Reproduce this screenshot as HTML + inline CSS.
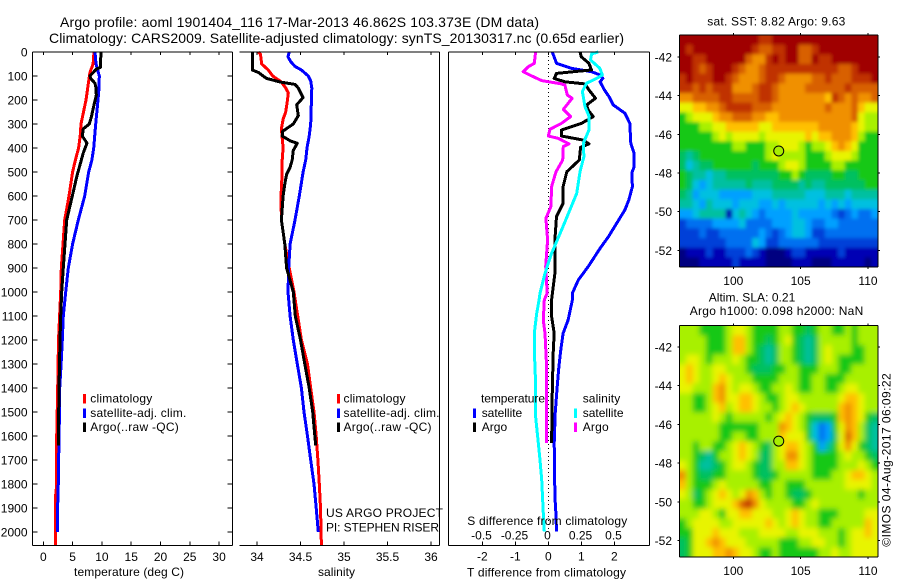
<!DOCTYPE html>
<html>
<head>
<meta charset="utf-8">
<title>Argo profile 1901404_116</title>
<style>
html,body{margin:0;padding:0;background:#fff;}
svg{display:block;}
text{font-family:"Liberation Sans",sans-serif;font-size:12px;fill:#000;}
.title{font-size:14px;}
</style>
</head>
<body>
<svg id="chart" xmlns="http://www.w3.org/2000/svg" width="900" height="580" viewBox="0 0 900 580">
<defs>
<clipPath id="clipSst"><rect x="679.5" y="35" width="198.5" height="232"/></clipPath>
<clipPath id="clipSla"><rect x="679.5" y="325.7" width="198.5" height="231.3"/></clipPath>
<filter id="blurSst" x="-5%" y="-5%" width="110%" height="110%"><feGaussianBlur stdDeviation="1.8"/></filter>
<filter id="blurSla" x="-5%" y="-5%" width="110%" height="110%"><feGaussianBlur stdDeviation="2.6"/></filter>
</defs>

<g id="marks"></g>

<text class="title" x="60" y="27" textLength="479" lengthAdjust="spacing">Argo profile: aoml 1901404_116 17-Mar-2013 46.862S 103.373E (DM data)</text>
<text class="title" x="49" y="43" textLength="575" lengthAdjust="spacing">Climatology: CARS2009. Satellite-adjusted climatology: synTS_20130317.nc (0.65d earlier)</text>

<text x="74" y="576" textLength="110" lengthAdjust="spacing">temperature (deg C)</text>
<text x="318" y="576" textLength="37" lengthAdjust="spacing">salinity</text>
<text x="467" y="576.5" textLength="159" lengthAdjust="spacing">T difference from climatology</text>
<text x="467.3" y="525" textLength="160" lengthAdjust="spacing">S difference from climatology</text>

<g>
<rect x="83" y="394" width="3" height="9.5" fill="#ff0000"/>
<rect x="83" y="408.5" width="3" height="9.5" fill="#0000ff"/>
<rect x="83" y="422.5" width="3" height="9.5" fill="#000"/>
<text x="90.3" y="402.7" textLength="62" lengthAdjust="spacing">climatology</text>
<text x="90.3" y="417" textLength="96" lengthAdjust="spacing">satellite-adj. clim.</text>
<text x="90.3" y="431" textLength="88.5" lengthAdjust="spacing">Argo(..raw -QC)</text>
</g>
<g>
<rect x="337" y="394" width="3" height="9.5" fill="#ff0000"/>
<rect x="337" y="408.5" width="3" height="9.5" fill="#0000ff"/>
<rect x="337" y="422.5" width="3" height="9.5" fill="#000"/>
<text x="343.5" y="402.7" textLength="62" lengthAdjust="spacing">climatology</text>
<text x="343.5" y="417" textLength="96" lengthAdjust="spacing">satellite-adj. clim.</text>
<text x="343.5" y="431" textLength="88" lengthAdjust="spacing">Argo(..raw -QC)</text>
</g>
<text x="326" y="517" textLength="117" lengthAdjust="spacing">US ARGO PROJECT</text>
<text x="326" y="531.7" textLength="113" lengthAdjust="spacing">PI: STEPHEN RISER</text>

<g>
<text x="481" y="402.7" textLength="64" lengthAdjust="spacing">temperature</text>
<text x="582.7" y="402.7" textLength="37.5" lengthAdjust="spacing">salinity</text>
<rect x="473" y="408.5" width="3" height="9.5" fill="#0000ff"/>
<rect x="473" y="422.5" width="3" height="9.5" fill="#000"/>
<rect x="574" y="408.5" width="3" height="9.5" fill="#00ffff"/>
<rect x="574" y="422.5" width="3" height="9.5" fill="#ff00ff"/>
<text x="481.7" y="417" textLength="40.5" lengthAdjust="spacing">satellite</text>
<text x="481.7" y="431" textLength="25.5" lengthAdjust="spacing">Argo</text>
<text x="582.7" y="417" textLength="40.8" lengthAdjust="spacing">satellite</text>
<text x="582.7" y="431" textLength="26" lengthAdjust="spacing">Argo</text>
</g>

<text x="707.3" y="25.7" textLength="138" lengthAdjust="spacing">sat. SST: 8.82 Argo: 9.63</text>
<text x="708.7" y="301.7" textLength="86.6" lengthAdjust="spacing">Altim. SLA: 0.21</text>
<text x="689.7" y="315" textLength="173.6" lengthAdjust="spacing">Argo h1000: 0.098 h2000: NaN</text>
<text transform="translate(890.7 546.7) rotate(-90)" x="0" y="0" textLength="173.4" lengthAdjust="spacing">©IMOS 04-Aug-2017 06:09:22</text>
</svg>

<script>
/* ---- axis tick labels ---- */
const depthTicks = [0,100,200,300,400,500,600,700,800,900,1000,1100,1200,1300,1400,1500,1600,1700,1800,1900,2000];
const tempTicks = [0,5,10,15,20,25,30];
const salTicks = [34,34.5,35,35.5,36];
const salTickLabels = ['34','34.5','35','35.5','36'];
const tDiffTicks = [-2,-1,0,1,2];
const tDiffLabels = ['-2','-1','0','1','2'];
const sDiffTicks = [-0.5,-0.25,0,0.25,0.5];
const sDiffLabels = ['-0.5','-0.25','0','0.25','0.5'];
const lonTicks = [100,105,110];
const latTicks = [-42,-44,-46,-48,-50,-52];

/* ---- temperature panel ---- */
const tempClimDepth = [0,50,85,100,200,300,350,400,450,500,600,700,800,900,1000,1200,1400,1600,1800,1850,2000,2055];
const tempClimValue = [8.65,8.5,7.97,7.86,7.29,6.43,6.3,6.03,5.47,5.0,4.39,3.65,3.36,3.08,2.97,2.6,2.45,2.28,2.28,2.1,2.1,2.12];
const tempSatDepth = [0,50,80,100,150,200,300,400,450,500,600,700,800,900,1000,1100,1200,1300,1400,1500,1650,1700,1850,1900,2000];
const tempSatValue = [8.83,9.0,9.33,9.56,9.5,9.33,8.94,8.6,8.3,7.74,7.06,5.98,5.0,4.27,3.82,3.42,3.25,3.03,2.8,2.74,2.68,2.57,2.55,2.4,2.4];
const tempArgoDepth = [0,65,70,85,100,110,130,150,180,220,270,300,320,350,380,420,470,520,600,700,800,900,1000,1100,1200,1400,1500,1640];
const tempArgoValue = [9.85,9.73,9.1,8.54,7.97,8.08,8.82,9.0,9.05,8.65,8.2,7.85,6.83,6.66,7.46,6.83,6.26,5.7,4.95,3.99,3.7,3.42,3.14,2.97,2.85,2.68,2.62,2.56];

/* ---- salinity panel ---- */
const salClimDepth = [0,10,50,75,100,125,150,170,200,250,280,320,400,450,500,600,700,800,900,1000,1100,1200,1300,1400,1500,1600,1700,1800,1900,2055];
const salClimValue = [34.015,34.04,34.054,34.13,34.18,34.28,34.33,34.36,34.35,34.33,34.30,34.28,34.30,34.29,34.29,34.276,34.28,34.32,34.37,34.425,34.468,34.51,34.58,34.617,34.655,34.68,34.70,34.716,34.73,34.74];
const salSatDepth = [0,20,40,60,75,100,120,150,300,350,400,450,500,600,700,800,900,1000,1100,1200,1300,1400,1500,1600,1700,1800,1900,2000];
const salSatValue = [34.37,34.356,34.387,34.437,34.51,34.59,34.617,34.63,34.617,34.6,34.575,34.56,34.53,34.486,34.437,34.38,34.364,34.356,34.38,34.417,34.463,34.51,34.54,34.58,34.617,34.655,34.68,34.705];
const salArgoDepth = [0,75,85,100,110,125,135,150,190,220,265,300,330,350,370,380,410,450,480,510,550,600,700,800,900,1000,1100,1200,1300,1400,1500,1640];
const salArgoValue = [33.946,33.946,34.015,34.07,34.11,34.264,34.437,34.475,34.53,34.456,34.475,34.417,34.295,34.29,34.38,34.463,34.417,34.405,34.38,34.34,34.32,34.30,34.28,34.32,34.34,34.417,34.44,34.5,34.55,34.6,34.64,34.675];

/* ---- difference panel ---- */
const dTSatDepth = [0,47,68,82,96,110,124,158,186,221,255,297,380,422,478,505,561,617,658,714,770,818,894,950,1005,1033,1117,1172,1241,1311,1394,1505,1630,1852,1922,1998];
const dTSatValue = [0.12,0.25,0.7,1.31,1.57,1.65,1.57,1.7,1.84,1.97,2.32,2.47,2.5,2.6,2.6,2.53,2.55,2.44,2.32,2.07,1.82,1.57,1.21,0.91,0.73,0.73,0.6,0.45,0.38,0.32,0.27,0.21,0.18,0.2,0.23,0.25];
const dTArgoDepth = [0,20,47,75,82,89,110,124,133,158,193,221,242,269,297,325,350,367,383,397,450,499,561,631,686,783,922,1033,1102,1172,1241,1408,1630];
const dTArgoValue = [0.96,1.0,1.23,1.31,0.76,0.25,0.18,0.5,1.11,1.23,1.43,1.16,1.21,1.36,1.01,0.4,0.4,1.06,1.23,0.98,0.94,0.56,0.45,0.45,0.25,0.2,0.2,0.1,0.1,0.18,0.15,0.12,0.1];
const dSArgoDepth = [0,47,61,82,103,119,133,138,179,193,239,269,297,322,350,360,383,394,450,499,561,644,693,783,894,1005,1033,1117,1172,1311,1519,1630];
const dSArgoValue = [-0.096,-0.106,-0.15,-0.19,-0.114,-0.05,0.1,0.126,0.144,0.18,0.114,0.17,0.1,0.013,0,0.076,0.157,0.114,0.109,0.058,0.025,0.02,-0.018,-0.005,-0.02,-0.008,-0.03,-0.038,-0.025,-0.013,-0.013,-0.015];
const dSSatDepth = [0,8,33,68,96,110,130,165,228,269,325,380,436,499,589,658,742,839,922,1005,1033,1089,1172,1241,1380,1519,1588,1700,1783,1922,1998];
const dSSatValue = [0.379,0.328,0.32,0.39,0.41,0.366,0.29,0.258,0.278,0.31,0.308,0.265,0.27,0.24,0.215,0.164,0.1,0.025,-0.025,-0.063,-0.07,-0.088,-0.106,-0.106,-0.096,-0.096,-0.083,-0.063,-0.05,-0.038,-0.03];

/* ---- float position ---- */
const floatLon = 103.373;
const floatLat = -46.862;

/* ---- map colour levels (dark blue to dark red) ---- */
const levelColors = ['#000080','#0000b4','#0040d8','#0070f0','#00a0ff','#00c0e0','#00c0a0','#00c060','#18c818','#a8f000','#e8f400','#ffc000','#f09000','#d86000','#c03000','#a00000'];

/* ---- SST map, level per 0.5 degree cell, north to south ---- */
const sstGrid = [
[15,15,15,15,15,15,15,15,15,15,15,15,14,14,15,15,15,15,15,15,15,15,15,15,15,15,15,15,15,15],
[15,14,15,15,15,15,15,15,15,15,15,14,13,13,14,14,15,15,13,13,14,15,15,15,15,15,15,15,15,15],
[15,15,14,14,15,15,15,15,15,15,13,12,12,14,15,14,15,15,13,13,15,14,14,15,15,15,15,15,15,15],
[15,15,14,13,14,15,15,15,14,13,12,12,13,14,14,14,14,14,14,14,14,14,14,14,13,13,14,15,15,15],
[14,15,14,14,14,15,15,14,13,12,12,12,13,14,14,13,12,12,12,12,13,13,14,13,13,13,14,14,14,15],
[14,14,13,14,13,14,14,14,12,12,12,13,14,14,13,12,12,12,12,13,13,13,13,13,13,14,13,13,13,13],
[12,12,13,13,13,13,14,14,13,13,13,13,14,14,13,12,12,12,12,12,12,12,11,14,13,12,13,12,12,13],
[10,10,11,11,12,12,13,14,14,14,14,13,13,13,12,12,12,12,12,12,12,12,13,12,12,12,13,11,10,10],
[8,9,10,10,10,11,12,12,13,13,13,12,12,11,11,12,12,12,12,12,12,12,12,12,12,12,13,10,9,9],
[8,8,8,9,9,10,10,11,11,11,11,11,10,10,11,11,11,11,11,11,11,12,12,12,12,12,11,10,9,9],
[8,8,8,8,8,9,10,9,10,10,10,10,9,10,10,10,10,10,10,11,10,11,11,12,12,12,11,9,8,8],
[8,8,8,8,8,8,8,8,9,9,8,8,8,9,9,10,10,10,9,8,9,9,10,11,12,11,10,8,8,8],
[7,6,7,8,8,8,8,8,8,8,8,8,8,9,10,9,9,9,9,8,8,8,9,10,10,10,9,8,8,8],
[7,5,6,7,7,8,8,8,8,8,8,7,8,8,8,9,10,10,9,8,8,8,8,9,9,8,8,8,8,8],
[8,7,6,6,5,6,6,7,7,7,7,7,7,7,7,8,8,9,8,7,7,7,7,8,8,7,7,8,8,8],
[8,7,5,4,5,6,6,6,6,6,7,6,6,6,7,7,7,7,6,7,6,6,7,7,7,7,7,7,8,8],
[7,6,4,5,5,5,4,4,4,4,4,5,5,5,6,6,6,6,6,5,5,5,6,6,6,5,6,6,6,6],
[6,6,5,4,6,5,5,5,4,5,5,5,4,4,5,4,5,5,5,5,5,4,5,4,5,4,5,5,5,5],
[4,4,5,6,6,6,6,1,5,6,5,4,3,4,4,4,4,5,4,4,4,4,4,3,2,3,4,3,3,4],
[2,3,3,3,3,4,4,4,4,5,3,3,3,3,4,4,4,5,5,4,3,3,4,4,3,3,3,3,3,3],
[2,2,2,3,2,2,3,3,3,3,3,3,4,3,2,3,4,5,5,4,2,2,3,3,3,3,3,3,3,3],
[2,2,2,2,2,2,2,3,3,3,3,5,4,2,2,3,3,3,3,3,3,2,2,2,2,2,2,2,2,2],
[0,1,1,1,2,1,1,2,2,2,3,2,1,0,0,0,1,2,2,1,1,1,1,1,2,1,1,1,1,1],
[0,0,0,1,1,1,1,1,2,1,1,1,1,0,0,0,0,1,1,1,0,0,0,1,1,1,1,1,0,1]
];

/* ---- altimetric SLA map, level per 0.5 degree cell, north to south ---- */
const slaGrid = [
[9,9,9,8,8,8,8,9,10,10,9,8,8,8,8,9,9,8,8,7,8,9,9,8,8,9,8,9,9,9],
[9,9,9,9,8,8,8,9,11,11,9,8,8,7,8,9,10,8,7,6,7,9,9,9,9,9,8,9,9,9],
[9,9,9,9,8,8,8,9,11,11,9,8,7,6,7,9,9,8,7,6,7,9,10,9,9,9,8,8,9,9],
[9,10,10,9,8,9,9,9,10,9,8,8,7,6,7,9,9,8,7,6,7,9,10,9,8,8,8,8,9,9],
[10,11,10,9,9,10,10,9,9,9,8,7,7,7,8,8,9,9,8,8,8,9,9,9,8,8,9,9,9,9],
[10,11,10,9,9,10,11,10,9,9,9,8,8,8,8,9,9,9,8,8,9,9,8,8,8,9,9,9,9,9],
[10,10,9,9,9,11,12,10,9,10,10,9,8,8,9,9,10,9,8,8,9,9,8,8,9,10,10,9,9,9],
[9,9,8,8,9,11,12,10,10,11,11,10,9,8,8,9,10,10,9,9,9,9,9,9,10,11,11,10,9,9],
[9,9,8,8,9,10,11,9,10,11,11,10,9,9,8,9,10,11,10,9,9,9,9,9,11,12,11,10,9,9],
[9,9,9,9,9,10,9,8,9,9,9,9,9,8,9,10,11,10,9,8,7,7,7,8,11,12,11,10,8,7],
[9,9,9,9,9,9,8,8,8,8,8,8,9,9,9,12,11,10,9,8,5,3,4,8,10,12,11,9,7,6],
[9,9,9,9,9,9,8,8,9,9,8,8,9,9,9,11,10,10,10,8,5,3,4,7,10,13,11,9,7,6],
[9,9,8,9,9,8,8,9,10,11,10,9,8,7,9,10,11,11,10,9,8,4,6,8,10,12,10,8,7,6],
[9,9,8,7,6,8,9,9,10,11,10,9,7,7,9,10,12,12,10,9,8,8,8,8,9,10,9,9,8,7],
[10,9,8,6,6,7,8,9,10,10,9,8,7,7,9,9,11,11,10,9,8,8,8,8,9,9,9,10,9,8],
[12,9,8,7,7,8,8,9,9,9,9,8,7,7,8,9,9,9,9,9,8,8,8,9,9,10,11,11,10,9],
[11,9,8,8,8,9,10,9,9,9,9,9,8,8,9,9,8,8,8,9,9,9,9,9,9,10,10,10,10,9],
[10,9,7,8,9,10,11,10,9,10,12,11,9,8,9,9,8,7,7,8,9,9,9,9,9,9,9,8,9,9],
[9,9,8,8,9,10,10,10,11,13,14,12,10,9,9,9,9,8,8,9,10,9,9,9,9,9,9,9,9,9],
[9,9,9,10,10,9,8,10,10,11,11,10,10,10,9,9,10,11,10,9,9,8,8,8,9,9,9,9,10,10],
[8,9,10,10,10,10,9,9,10,10,10,10,10,11,10,9,10,11,10,9,9,8,8,9,9,9,9,9,11,10],
[8,8,10,10,10,11,10,10,10,9,9,9,10,10,10,10,9,9,10,10,10,9,9,9,8,9,10,10,11,10],
[7,8,10,10,11,12,11,10,10,10,9,9,9,9,9,8,8,8,9,9,10,10,9,9,8,9,10,10,10,10],
[7,8,10,10,10,11,11,12,11,10,10,9,8,8,9,8,8,8,8,8,8,9,9,10,9,9,10,10,10,10]
];

/* ---- scales ---- */
const SVGNS = 'http://www.w3.org/2000/svg';
const marks = document.getElementById('marks');
const plotTop = 52, plotBottom = 545.3;
function yDepth(d){ return plotTop + 0.24 * d; }
function xTemp(v){ return 43.3 + 5.86 * v; }
function xSal(v){ return 257 + 87 * (v - 34); }
function xDT(v){ return 548.3 + 33 * v; }
function xDS(v){ return 548.3 + 132 * v; }
const lonLeft = 96, lonRight = 110.73;
function xLon(lon){ return 733.3 + 13.47 * (lon - 100); }
function ySstLat(lat){ return 57 + 19.33 * (-42 - lat); }
function ySlaLat(lat){ return 347 + 19.35 * (-42 - lat); }

function node(tag, parent){
  const el = document.createElementNS(SVGNS, tag);
  parent.appendChild(el);
  return el;
}
function segment(parent, x1, y1, x2, y2){
  const l = node('line', parent);
  l.setAttribute('x1', x1);
  l.setAttribute('y1', y1);
  l.setAttribute('x2', x2);
  l.setAttribute('y2', y2);
  l.setAttribute('stroke', '#000');
  l.setAttribute('stroke-width', '1');
  l.setAttribute('shape-rendering', 'crispEdges');
  
  
  return l;
}
function label(parent, x, y, str, anchor){
  const t = node('text', parent);
  t.setAttribute('x', x);
  t.setAttribute('y', y);
  t.setAttribute('text-anchor', anchor);
  t.textContent = str;
  
  
  return t;
}
function profile(parent, depths, values, xFn, color, name){
  const p = node('polyline', parent);
  p.setAttribute('points', depths.map(function(d, i){ return xFn(values[i]).toFixed(1) + ',' + yDepth(d).toFixed(1); }).join(' '));
  p.setAttribute('fill', 'none');
  p.setAttribute('stroke', color);
  p.setAttribute('stroke-width', '3');
  p.setAttribute('stroke-linejoin', 'round');
  p.setAttribute('shape-rendering', 'crispEdges');
  
  
  return p;
}

/* ---- panel 1: temperature ---- */
const p1 = node('g', marks);


profile(p1, tempClimDepth, tempClimValue, xTemp, '#ff0000', 'temperature-climatology-line');
profile(p1, tempSatDepth, tempSatValue, xTemp, '#0000ff', 'temperature-satellite-line');
profile(p1, tempArgoDepth, tempArgoValue, xTemp, '#000000', 'temperature-argo-line');
segment(p1, 32.5, plotTop, 232.5, plotTop);
segment(p1, 32.5, plotBottom, 232.5, plotBottom);
segment(p1, 32.5, plotTop, 32.5, plotBottom);
segment(p1, 232.5, plotTop, 232.5, plotBottom);
depthTicks.forEach(function(d){
  segment(p1, 32.5, yDepth(d), 37.5, yDepth(d));
  segment(p1, 227.5, yDepth(d), 232.5, yDepth(d));
  label(p1, 27.5, yDepth(d) + 4.5, String(d), 'end');
});
tempTicks.forEach(function(v){
  segment(p1, xTemp(v), plotTop, xTemp(v), plotTop + 3);
  segment(p1, xTemp(v), plotBottom - 4, xTemp(v), plotBottom);
  label(p1, xTemp(v), 561, String(v), 'middle');
});

/* ---- panel 2: salinity ---- */
const p2 = node('g', marks);


profile(p2, salClimDepth, salClimValue, xSal, '#ff0000', 'salinity-climatology-line');
profile(p2, salSatDepth, salSatValue, xSal, '#0000ff', 'salinity-satellite-line');
profile(p2, salArgoDepth, salArgoValue, xSal, '#000000', 'salinity-argo-line');
segment(p2, 239.5, plotTop, 439.5, plotTop);
segment(p2, 239.5, plotBottom, 439.5, plotBottom);
segment(p2, 439.5, plotTop, 439.5, plotBottom);
salTicks.forEach(function(v, i){
  segment(p2, xSal(v), plotTop, xSal(v), plotTop + 3);
  segment(p2, xSal(v), plotBottom - 4, xSal(v), plotBottom);
  label(p2, xSal(v), 561, salTickLabels[i], 'middle');
});

/* ---- panel 3: differences ---- */
const p3 = node('g', marks);


const zeroLine = segment(p3, xDT(0), plotTop, xDT(0), yDepth(2000));
zeroLine.setAttribute('stroke-dasharray', '1 3');

profile(p3, dTSatDepth, dTSatValue, xDT, '#0000ff', 't-difference-satellite-line');
profile(p3, dTArgoDepth, dTArgoValue, xDT, '#000000', 't-difference-argo-line');
profile(p3, dSArgoDepth, dSArgoValue, xDS, '#ff00ff', 's-difference-argo-line');
profile(p3, dSSatDepth, dSSatValue, xDS, '#00ffff', 's-difference-satellite-line');
segment(p3, 448.5, plotTop, 649.5, plotTop);
segment(p3, 448.5, plotBottom, 649.5, plotBottom);
segment(p3, 448.5, plotTop, 448.5, plotBottom);
segment(p3, 649.5, plotTop, 649.5, plotBottom);
tDiffTicks.forEach(function(v, i){
  segment(p3, xDT(v), plotTop, xDT(v), plotTop + 3);
  segment(p3, xDT(v), plotBottom - 4, xDT(v), plotBottom);
  label(p3, xDT(v), 560.5, tDiffLabels[i], 'middle');
});
sDiffTicks.forEach(function(v, i){
  label(p3, xDS(v) - 0.8, 539.5, sDiffLabels[i], 'middle');
});

/* ---- maps ---- */
function drawMap(grid, yLat, top, bottom, clipId, blurId, name, markerFill){
  const g = node('g', marks);
  
  
  const clip = node('g', g);
  clip.setAttribute('clip-path', 'url(#' + clipId + ')');
  
  
  const blur = node('g', clip);
  blur.setAttribute('filter', 'url(#' + blurId + ')');
  
  
  const left = xLon(lonLeft), right = xLon(lonRight);
  const nRows = grid.length;
  grid.forEach(function(row, r){
    const nCols = row.length;
    row.forEach(function(level, c){
      const x0 = left + (right - left) * c / nCols - (c === 0 ? 12 : 0);
      const x1 = left + (right - left) * (c + 1) / nCols + (c === nCols - 1 ? 12 : 0.5);
      const y0 = top + (bottom - top) * r / nRows - (r === 0 ? 12 : 0);
      const y1 = top + (bottom - top) * (r + 1) / nRows + (r === nRows - 1 ? 12 : 0.5);
      const cell = node('rect', blur);
      cell.setAttribute('x', x0.toFixed(2));
      cell.setAttribute('y', y0.toFixed(2));
      cell.setAttribute('width', (x1 - x0).toFixed(2));
      cell.setAttribute('height', (y1 - y0).toFixed(2));
      cell.setAttribute('fill', levelColors[level]);
      
      
    });
  });
  segment(g, left, top, right, top);
  segment(g, left, bottom, right, bottom);
  segment(g, left, top, left, bottom);
  segment(g, right, top, right, bottom);
  lonTicks.forEach(function(lon){
    segment(g, xLon(lon), top - 2, xLon(lon), top);
    segment(g, xLon(lon), bottom, xLon(lon), bottom + 2);
    label(g, xLon(lon), bottom + 18, String(lon), 'middle');
  });
  latTicks.forEach(function(lat){
    segment(g, left - 2, yLat(lat), left, yLat(lat));
    segment(g, right, yLat(lat), right + 2, yLat(lat));
    label(g, 672, yLat(lat) + 4.5, String(lat), 'end');
  });
  const dot = node('circle', g);
  dot.setAttribute('cx', xLon(floatLon));
  dot.setAttribute('cy', yLat(floatLat));
  dot.setAttribute('r', '5');
  dot.setAttribute('fill', markerFill);
  dot.setAttribute('stroke', '#000');
  dot.setAttribute('stroke-width', '1');
  
  
}
drawMap(sstGrid, ySstLat, 35, 267, 'clipSst', 'blurSst', 'sst-map', '#a8ee00');
drawMap(slaGrid, ySlaLat, 325.7, 557, 'clipSla', 'blurSla', 'sla-map', '#a8ee00');
</script>
</body>
</html>
